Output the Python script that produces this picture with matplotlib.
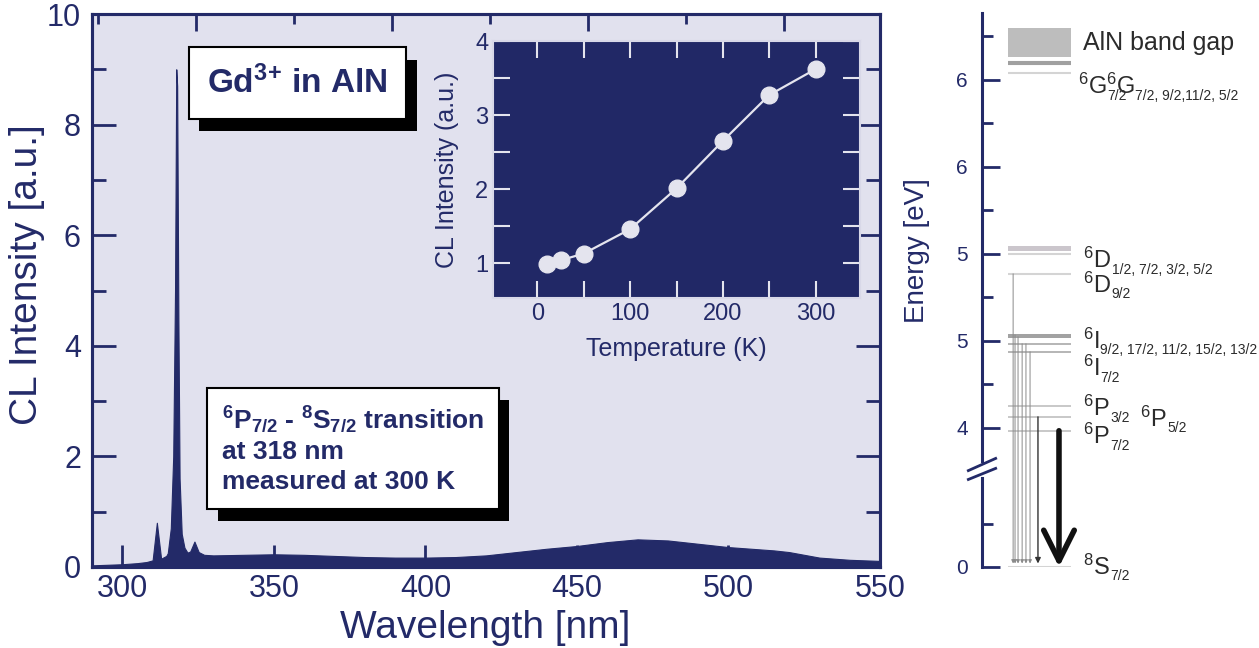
"""Gd3+ in AlN: CL spectrum, temperature inset and level scheme"""
import numpy as np
import matplotlib
matplotlib.use("Agg")
import matplotlib.pyplot as plt
from matplotlib import patheffects as pe
from matplotlib.ticker import FixedLocator, NullFormatter

plt.rcParams["font.family"] = ["Liberation Sans", "DejaVu Sans"]
plt.rcParams["mathtext.default"] = "regular"

NAVY = "#232a68"
LAV = "#e1e1ee"

# main CL spectrum
wavelength = [290, 295, 300, 305, 308, 310.0, 311.4, 312.8, 314.5, 315.0, 316.0, 316.8,
              317.4, 317.8, 318.1, 318.5, 318.9, 319.6, 320.5, 321.5, 322.4, 323.8,
              325.2, 327, 330, 340, 350, 360, 370, 380, 390, 400, 410, 420, 430,
              440, 450, 460, 470, 480, 490, 500, 510, 515, 520, 525, 530, 540, 550]
intensity = [0.03, 0.04, 0.05, 0.07, 0.09, 0.12, 0.80, 0.15, 0.2, 0.25, 0.7, 2.0,
             5.0, 9.0, 8.7, 4.5, 1.6, 0.6, 0.35, 0.26, 0.28, 0.46,
             0.27, 0.22, 0.21, 0.22, 0.23, 0.22, 0.2, 0.18, 0.17, 0.17, 0.18, 0.21, 0.27,
             0.33, 0.38, 0.45, 0.5, 0.48, 0.42, 0.36, 0.32, 0.3, 0.27, 0.22, 0.17, 0.13, 0.11]

# inset: CL intensity vs temperature
temperature = [10, 25, 50, 100, 150, 200, 250, 300]
cl_temp = [0.99, 1.04, 1.13, 1.46, 2.01, 2.65, 3.27, 3.62]

# level scheme (eV)
bandgap = (6.13, 6.30)
g_levels = [6.10, 6.09, 6.04]
d_band = (5.017, 5.046)
d_levels = [5.0, 4.885]
i_levels = [4.534, 4.523, 4.483, 4.437]
p_levels = [4.126, 4.063, 3.983]
ground = 0.0
# thin transitions: start energy and x position in the diagram
trans_E = [4.885, 4.534, 4.523, 4.483, 4.483, 4.437]
trans_x = [0.114, 0.121, 0.132, 0.147, 0.161, 0.176]

fig = plt.figure(figsize=(12.59, 6.48), dpi=100)

# ---------------- main spectrum ----------------
ax = fig.add_axes([92 / 1259, 1 - 567 / 648, 788 / 1259, 553 / 648])
ax.set_facecolor(LAV)
ax.fill_between(wavelength, intensity, 0, color=NAVY, lw=0.8, edgecolor=NAVY)
ax.set_xlim(290, 550)
ax.set_ylim(0, 10)
ax.set_xticks([300, 350, 400, 450, 500, 550])
ax.set_yticks([0, 2, 4, 6, 8, 10])
ax.set_yticks([1, 3, 5, 7, 9], minor=True)
ax.tick_params(which="both", direction="in", color=NAVY, labelcolor=NAVY,
               labelsize=22, width=2, left=True, right=True, bottom=True)
ax.tick_params(axis="y", which="major", length=17, pad=8)
ax.tick_params(axis="y", which="minor", length=10)
ax.tick_params(axis="x", which="major", length=16, pad=5)
for s in ax.spines.values():
    s.set_color(NAVY)
    s.set_linewidth(2.2)
ax.set_xlabel("Wavelength [nm]", fontsize=28, color=NAVY)
ax.xaxis.set_label_coords(0.499, -0.078)
ax.set_ylabel("CL Intensity [a.u.]", fontsize=28, color=NAVY)
ax.yaxis.set_label_coords(-0.083, 0.528)
ax.yaxis.label.set_verticalalignment("center")

top = ax.twiny()
top.set_xlim(0.94, 8.98)
top.xaxis.set_major_locator(FixedLocator([2, 4, 6, 8]))
top.xaxis.set_minor_locator(FixedLocator([1, 3, 5, 7]))
top.xaxis.set_major_formatter(NullFormatter())
top.tick_params(which="both", direction="in", color=NAVY, width=2)
top.tick_params(which="major", length=12)
top.tick_params(which="minor", length=7)
for s in top.spines.values():
    s.set_color(NAVY)
    s.set_linewidth(2.2)

shadow = [pe.withSimplePatchShadow(offset=(7.5, -9), shadow_rgbFace="black", alpha=1)]
t1 = fig.text(297.5 / 1259, 1 - 83 / 648, "Gd$^{3}$$^{+}$ in AlN", fontsize=24, fontweight="bold",
              color=NAVY, ha="center", va="center",
              bbox=dict(boxstyle="square,pad=0.55", fc="white", ec="black", lw=1.5))
t1.get_bbox_patch().set_path_effects(shadow)
t2 = fig.text(222 / 1259, 1 - 449 / 648,
              "$^6$P$_{7/2}$ - $^8$S$_{7/2}$ transition\nat 318 nm\nmeasured at 300 K",
              fontsize=19, fontweight="bold", color=NAVY, ha="left", va="center",
              linespacing=1.3,
              bbox=dict(boxstyle="square,pad=0.55", fc="white", ec="black", lw=1.5))
t2.get_bbox_patch().set_path_effects(shadow)

# ---------------- inset ----------------
ins = fig.add_axes([493 / 1259, 1 - 298 / 648, 367 / 1259, 257 / 648])
ins.set_facecolor("#212866")
ins.plot(temperature, cl_temp, "-o", color="#e4e4ee", lw=1.6, ms=12, mec="#e4e4ee")
ins.set_xlim(-48, 348)
ins.set_ylim(0.53, 4)
ins.set_xticks([0, 100, 200, 300])
ins.set_xticks([50, 150, 250], minor=True)
ins.set_yticks([1, 2, 3, 4])
ins.set_yticks([1.5, 2.5, 3.5], minor=True)
ins.tick_params(which="both", direction="in", color="#e4e4ee", labelcolor=NAVY,
                labelsize=17, length=12, width=1.5, top=True, right=True)
for s in ins.spines.values():
    s.set_color("#d8d8e8")
    s.set_linewidth(1.5)
ins.set_xlabel("Temperature (K)", fontsize=18, color=NAVY)
ins.xaxis.set_label_coords(0.5, -0.15)
ins.set_ylabel("CL Intensity (a.u.)", fontsize=18, color=NAVY)
ins.yaxis.set_label_coords(-0.125, 0.5)
ins.yaxis.label.set_verticalalignment("center")

# ---------------- level scheme ----------------
lev = fig.add_axes([982 / 1259, 1 - 567 / 648, 273 / 1259, 554 / 648])


def fwd(e):
    return np.interp(e, [0, 0.52, 3.8, 8], [0, 0.52, 0.6, 4.8])


def inv(y):
    return np.interp(y, [0, 0.52, 0.6, 4.8], [0, 0.52, 3.8, 8])


lev.set_yscale("function", functions=(fwd, inv))
lev.set_xlim(0, 1)
lev.set_ylim(0, 6.384)
for s in lev.spines.values():
    s.set_visible(False)
lev.set_xticks([])
lev.yaxis.set_major_locator(FixedLocator([0, 4, 4.5, 5, 5.5, 6]))
lev.set_yticklabels(["0", "4", "5", "5", "6", "6"])
lev.yaxis.set_minor_locator(FixedLocator([0.25, 4.25, 4.75, 5.25, 5.75, 6.25]))
lev.yaxis.set_minor_formatter(NullFormatter())
lev.tick_params(axis="y", which="both", direction="in", color=NAVY, labelcolor=NAVY,
                labelsize=15, width=2, pad=10)
lev.tick_params(axis="y", which="major", length=13)
lev.tick_params(axis="y", which="minor", length=8)
lev.set_ylabel("Energy [eV]", fontsize=20, color=NAVY)
lev.yaxis.set_label_coords(-0.238, 0.572)
lev.yaxis.label.set_verticalalignment("center")

# broken spine
lev.plot([0, 0], [0, 0.161], transform=lev.transAxes, color=NAVY, lw=2.2, clip_on=False)
lev.plot([0, 0], [0.192, 1], transform=lev.transAxes, color=NAVY, lw=2.2, clip_on=False)
lev.plot([-0.05, 0.05], [0.158, 0.178], transform=lev.transAxes, color=NAVY, lw=2, clip_on=False)
lev.plot([-0.05, 0.05], [0.174, 0.196], transform=lev.transAxes, color=NAVY, lw=2, clip_on=False)

x0, x1 = 0.095, 0.326
lev.fill_between([x0, x1], bandgap[0], bandgap[1], color="#bdbdbd", lw=0)
lev.hlines(g_levels[:2], x0, x1, color="#a0a0a0", lw=1.5)
lev.hlines(g_levels[2], x0, x1, color="#d4d4d4", lw=1.5)
lev.fill_between([x0, x1], d_band[0], d_band[1], color="#cbc6cc", lw=0)
lev.hlines(d_levels, x0, x1, color="#d4d4d4", lw=1.5)
lev.hlines(i_levels[:2], x0, x1, color="#999999", lw=1.3)
lev.hlines(i_levels[2:], x0, x1, color="#b0b0b0", lw=1.3)
lev.hlines(p_levels, x0, x1, color="#c4c4c4", lw=1.3)
lev.hlines(ground, x0, x1, color="#d4d4d4", lw=1.5)

for e, x in zip(trans_E, trans_x):
    lev.annotate("", xy=(x, 0.02), xytext=(x, e),
                 arrowprops=dict(arrowstyle="-|>", lw=0.7, color="#8a8a8a",
                                 mutation_scale=5, shrinkA=0, shrinkB=0))
lev.annotate("", xy=(0.205, 0.02), xytext=(0.205, p_levels[1]),
             arrowprops=dict(arrowstyle="-|>", lw=1.0, color="#333333",
                             mutation_scale=8, shrinkA=0, shrinkB=0))
lev.annotate("", xy=(0.282, 0.0), xytext=(0.282, p_levels[2]),
             arrowprops=dict(arrowstyle="->,head_length=1.1,head_width=0.55", lw=4,
                             color="#111111", mutation_scale=20, shrinkA=0, shrinkB=0))

TXT = "#2b2b2b"


def term(x, y, name, sub, sup="6", anchor=None):
    """term symbol: big letter with superscript, small subscript placed after it"""
    if anchor is None:
        t = lev.text(x, y, f"$^{sup}${name}", fontsize=17, color=TXT, va="center")
    else:
        t = lev.annotate(f"$^{sup}${name}", xy=(1, 0), xycoords=anchor, xytext=(0, 0),
                         textcoords="offset points", fontsize=17, color=TXT, va="bottom")
    lev.annotate(sub, xy=(1, 0), xycoords=t, xytext=(0.5, 2.5), textcoords="offset points",
                 fontsize=10, color=TXT, va="center", ha="left")
    return t


lev.text(0.37, 6.21, "AlN band gap", fontsize=18, color=TXT, va="center")
g1 = term(0.35, 5.96, "G", "7/2")
term(0, 0, "G", "7/2, 9/2,11/2, 5/2", anchor=g1)
term(0.37, 4.96, "D", "1/2, 7/2, 3/2, 5/2")
term(0.37, 4.82, "D", "9/2")
term(0.37, 4.50, "I", "9/2, 17/2, 11/2, 15/2, 13/2")
term(0.37, 4.34, "I", "7/2")
term(0.37, 4.11, "P", "3/2")
term(0.58, 4.05, "P", "5/2")
term(0.37, 3.95, "P", "7/2")
term(0.37, -0.01, "S", "7/2", sup="8")

fig.savefig("out.png", dpi=100)
